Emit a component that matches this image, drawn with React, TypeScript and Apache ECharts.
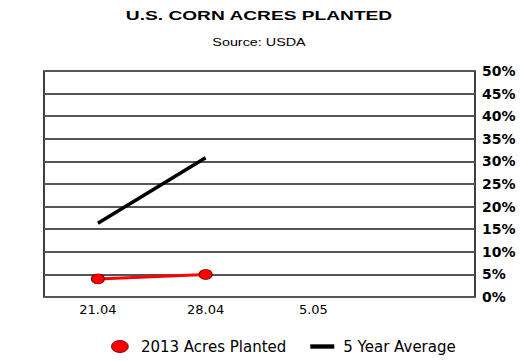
import React, { useEffect, useRef } from "react";
import * as echarts from "echarts";

const categories = ["21.04", "28.04", "5.05", ""];
const acres2013 = [4.0, 5.0, null, null];
const fiveYearAvg = [16.3, 30.8, null, null];
const yTicks = [0, 5, 10, 15, 20, 25, 30, 35, 40, 45, 50];

const ELLIPSE = "path://M0,5 A7,5 0 1 1 14,5 A7,5 0 1 1 0,5 Z";
const BAR = "path://M0,0 H22 V4 H0 Z";

export default function App() {
  const ref = useRef<HTMLDivElement>(null);
  useEffect(() => {
    const chart = echarts.init(ref.current!, null, { renderer: "svg" });
    chart.setOption({
      animation: false,
      backgroundColor: "#ffffff",
      graphic: [
        {
          type: "text",
          x: 259,
          y: 16,
          scaleX: 1.42,
          style: {
            text: "U.S. CORN ACRES PLANTED",
            fontFamily: "Liberation Sans",
            fontSize: 13.5,
            fontWeight: "bold",
            fill: "#000",
            align: "center",
            verticalAlign: "middle",
          },
        },
        {
          type: "text",
          x: 259,
          y: 42,
          scaleX: 1.25,
          style: {
            text: "Source: USDA",
            fontFamily: "Liberation Sans",
            fontSize: 11.5,
            fill: "#000",
            align: "center",
            verticalAlign: "middle",
          },
        },
      ],
      grid: { left: 44, right: 45, top: 71, bottom: 66, show: true, borderColor: "#000", borderWidth: 1.5 },
      xAxis: {
        type: "category",
        data: categories,
        boundaryGap: true,
        axisLine: { show: false },
        axisTick: { show: false },
        axisLabel: { fontFamily: "DejaVu Sans", fontSize: 13, color: "#000", margin: 6 },
      },
      yAxis: {
        type: "value",
        position: "right",
        min: yTicks[0],
        max: yTicks[yTicks.length - 1],
        interval: 5,
        axisLine: { show: false },
        axisTick: { show: false },
        axisLabel: {
          fontFamily: "DejaVu Sans",
          fontSize: 14,
          fontWeight: "bold",
          color: "#000",
          margin: 7,
          formatter: (v: number) => v + "%",
        },
        splitLine: { show: true, lineStyle: { color: "#555", width: 1.8 } },
      },
      legend: {
        top: 334,
        left: 106,
        itemGap: 24,
        itemWidth: 24,
        itemHeight: 12,
        textStyle: { fontFamily: "DejaVu Sans", fontSize: 15, color: "#000", padding: [0, 0, 0, 4] },
        data: [
          { name: "2013 Acres Planted", icon: ELLIPSE, itemStyle: { color: "#ff0000", borderColor: "#800000", borderWidth: 1 } },
          { name: "5 Year Average", icon: BAR, itemStyle: { color: "#000" } },
        ],
      },
      series: [
        {
          name: "2013 Acres Planted",
          type: "line",
          data: acres2013,
          lineStyle: { color: "#ff0000", width: 3 },
          itemStyle: { color: "#ff0000", borderColor: "#800000", borderWidth: 1 },
          symbol: ELLIPSE,
          symbolKeepAspect: false,
          symbolSize: [13, 10],
          z: 3,
        },
        {
          name: "5 Year Average",
          type: "line",
          data: fiveYearAvg,
          lineStyle: { color: "#000", width: 3.5 },
          itemStyle: { color: "#000" },
          symbol: "none",
          z: 2,
        },
      ],
    });
    return () => chart.dispose();
  }, []);
  return <div ref={ref} style={{ width: 520, height: 363, position: "absolute", left: 0, top: 0 }} />;
}
